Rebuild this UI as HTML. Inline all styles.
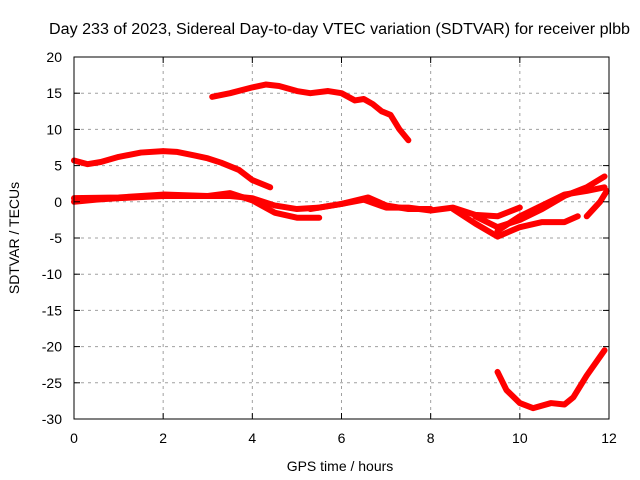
<!DOCTYPE html>
<html><head><meta charset="utf-8"><style>
body{margin:0;background:#fff}
svg{display:block;font-family:"Liberation Sans",sans-serif;font-size:14px}
</style></head><body>
<svg id="chart" width="640" height="480">
<g id="grid"></g>
<g id="series"></g>
<rect x="74" y="57" width="535" height="362" fill="none" stroke="#000" stroke-width="1"/>
<g id="ticks"></g>
<text x="49" y="34" textLength="581" lengthAdjust="spacingAndGlyphs" style="font-size:15.5px">Day 233 of 2023, Sidereal Day-to-day VTEC variation (SDTVAR) for receiver plbb</text>
<text x="340" y="471" text-anchor="middle">GPS time / hours</text>
<text transform="translate(19,238) rotate(-90)" text-anchor="middle">SDTVAR / TECUs</text>
</svg>
<script>
const xTicks=[0,2,4,6,8,10,12];
const yTicks=[20,15,10,5,0,-5,-10,-15,-20,-25,-30];
const seriesTop=[[3.1,14.5],[3.5,15],[4,15.8],[4.3,16.2],[4.6,16],[5,15.3],[5.3,15],[5.7,15.3],[6,15],[6.3,14],[6.5,14.2],[6.7,13.5],[6.9,12.5],[7.1,12],[7.3,10],[7.5,8.5]];
const seriesB=[[0,5.7],[0.3,5.2],[0.6,5.5],[1,6.2],[1.5,6.8],[2,7],[2.3,6.9],[2.7,6.4],[3,6],[3.3,5.4],[3.7,4.4],[4,3],[4.4,2]];
const seriesC=[[0,0],[0.5,0.3],[1,0.5],[2,0.8],[3,0.8],[3.5,0.8],[4,0.5],[4.5,-0.5],[5,-1],[5.5,-0.8],[6,-0.3],[6.5,0.3],[7,-0.8],[7.5,-0.8],[8,-1.2],[8.5,-0.8],[9,-1.8],[9.5,-2],[10,-0.8]];
const seriesD=[[0,0.5],[1,0.6],[2,1],[3,0.8],[3.5,1.2],[4,0.2],[4.5,-1.5],[5,-2.2],[5.5,-2.2]];
const seriesE=[[5.3,-1],[6,-0.3],[6.6,0.6],[7,-0.5],[7.5,-1],[8,-1]];
const seriesF=[[8.5,-1],[9,-3],[9.5,-4.8],[10,-3.5],[10.5,-2.8],[11,-2.8],[11.3,-2]];
const seriesG=[[9,-2],[9.5,-3.5],[10,-2.5],[10.5,-1],[11,0.8],[11.5,2],[11.9,3.5]];
const seriesH=[[9.5,-4],[10,-2],[10.5,-0.5],[11,1],[11.5,1.5],[11.9,2]];
const seriesI=[[11.5,-2],[11.8,0],[11.95,1.5]];
const seriesJ=[[9.5,-23.5],[9.7,-26],[10,-27.8],[10.3,-28.5],[10.7,-27.8],[11,-28],[11.2,-27],[11.5,-24],[11.9,-20.5]];
const allSeries=[seriesTop,seriesB,seriesC,seriesD,seriesE,seriesF,seriesG,seriesH,seriesI,seriesJ];
const NS="http://www.w3.org/2000/svg";
const X=v=>74+v/12*535, Y=v=>57+(20-v)/50*362;
const grid=document.getElementById('grid'),ticks=document.getElementById('ticks'),ser=document.getElementById('series');
function mk(tag,attrs,parent){const e=document.createElementNS(NS,tag);for(const k in attrs)e.setAttribute(k,attrs[k]);parent.appendChild(e);return e;}
xTicks.forEach(t=>{
 if(t>0&&t<12){const g=mk('line',{x1:X(t),x2:X(t),y1:57,y2:419,stroke:'#a0a0a0','stroke-dasharray':'3,4'},grid);
 
 }
 mk('line',{x1:X(t),x2:X(t),y1:419,y2:413,stroke:'#000'},ticks);mk('line',{x1:X(t),x2:X(t),y1:57,y2:63,stroke:'#000'},ticks);
 const l=mk('text',{x:X(t),y:443,'text-anchor':'middle'},ticks);l.textContent=t;
 
 
});
yTicks.forEach(t=>{
 if(t<20&&t>-30){const g=mk('line',{x1:74,x2:609,y1:Y(t),y2:Y(t),stroke:'#a0a0a0','stroke-dasharray':'3,4'},grid);
 
 }
 mk('line',{x1:74,x2:80,y1:Y(t),y2:Y(t),stroke:'#000'},ticks);mk('line',{x1:603,x2:609,y1:Y(t),y2:Y(t),stroke:'#000'},ticks);
 const l=mk('text',{x:62,y:Y(t)+5,'text-anchor':'end'},ticks);l.textContent=t;
 
 
});
allSeries.forEach((s,i)=>{
 const p=mk('polyline',{points:s.map(d=>X(d[0])+','+Y(d[1])).join(' '),fill:'none',stroke:'#f00','stroke-width':6,'stroke-linejoin':'round','stroke-linecap':'round'},ser);
 
 
});
</script>
</body></html>
